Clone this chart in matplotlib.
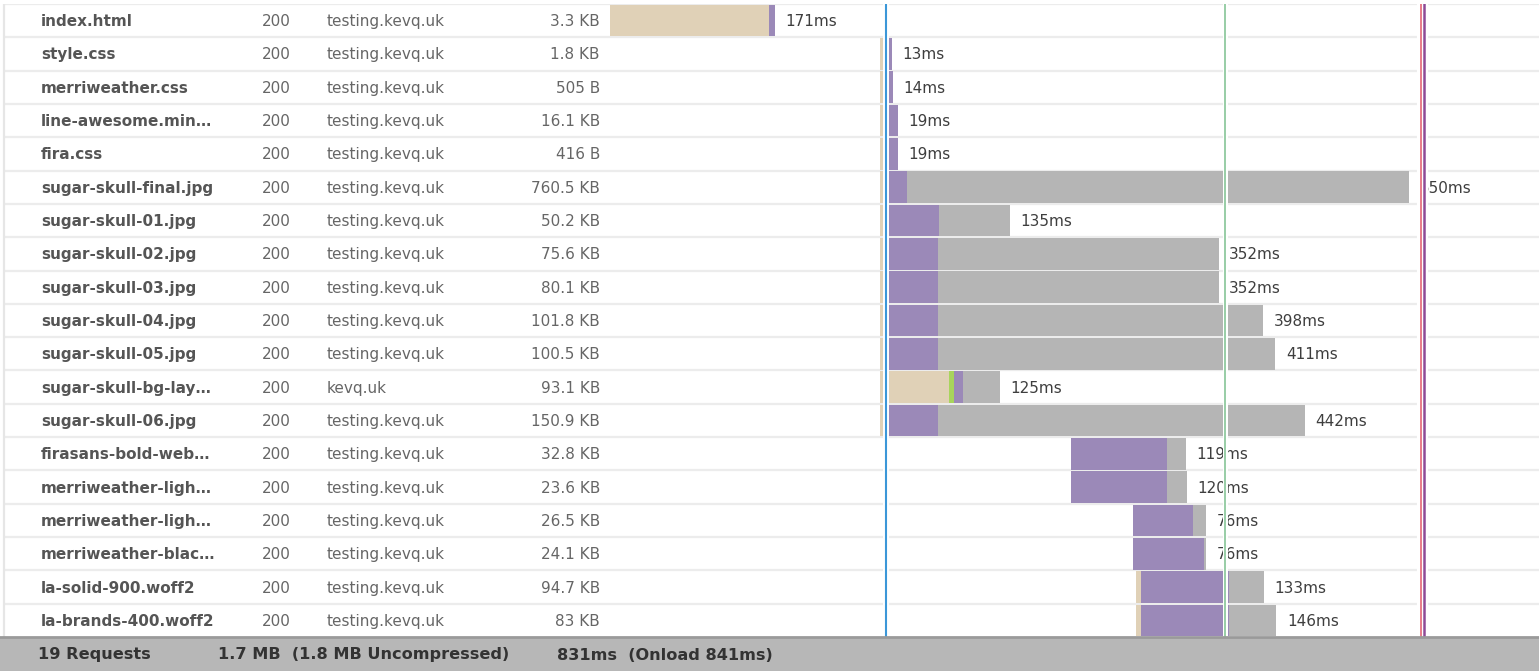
import matplotlib
matplotlib.use("Agg")
import matplotlib.pyplot as plt
from matplotlib.patches import Rectangle

# request table
names = ["index.html", "style.css", "merriweather.css", "line-awesome.min…", "fira.css",
         "sugar-skull-final.jpg", "sugar-skull-01.jpg", "sugar-skull-02.jpg", "sugar-skull-03.jpg",
         "sugar-skull-04.jpg", "sugar-skull-05.jpg", "sugar-skull-bg-lay…", "sugar-skull-06.jpg",
         "firasans-bold-web…", "merriweather-ligh…", "merriweather-ligh…", "merriweather-blac…",
         "la-solid-900.woff2", "la-brands-400.woff2"]
status = ["200"] * 19
domains = ["testing.kevq.uk"] * 11 + ["kevq.uk"] + ["testing.kevq.uk"] * 7
sizes = ["3.3 KB", "1.8 KB", "505 B", "16.1 KB", "416 B", "760.5 KB", "50.2 KB", "75.6 KB",
         "80.1 KB", "101.8 KB", "100.5 KB", "93.1 KB", "150.9 KB", "32.8 KB", "23.6 KB",
         "26.5 KB", "24.1 KB", "94.7 KB", "83 KB"]

# timings in ms
start   = [0, 280, 280, 280, 280, 280, 280, 280, 280, 280, 280, 280, 280, 479, 479, 543, 543, 546, 546]
blocked = [165, 4, 4, 4, 4, 4, 4, 4, 4, 4, 4, 72, 4, 0, 0, 0, 0, 5, 5]
connect = [0, 0, 0, 0, 0, 0, 0, 0, 0, 0, 0, 5, 0, 0, 0, 0, 0, 0, 0]
wait    = [6, 9, 10, 15, 15, 24, 58, 57, 57, 57, 57, 10, 57, 99, 99, 62, 74, 92, 92]
receive = [0, 0, 0, 0, 0, 522, 73, 291, 291, 337, 350, 38, 381, 20, 21, 14, 2, 36, 49]
totals  = [171, 13, 14, 19, 19, 550, 135, 352, 352, 398, 411, 125, 442, 119, 120, 76, 76, 133, 146]

dom_loaded = 286.6
render_mark = 639
onload_start = 842
onload_end = 845.3

footer = ["19 Requests", "1.7 MB  (1.8 MB Uncompressed)", "831ms  (Onload 841ms)"]

W, H = 1539, 671
fig = plt.figure(figsize=(W / 100, H / 100), dpi=100)
fig.patch.set_facecolor("white")
plt.rcParams["font.family"] = ["DejaVu Sans"]

n = len(names)
bot = 34 / H
hgt = 633 / H
split = 610 / W

tab = fig.add_axes([0, bot, split, hgt])
tl = fig.add_axes([split, bot, 1 - split, hgt])
for a in (tab, tl):
    a.set_ylim(n - 0.5, -0.5)
    a.axis("off")
tab.set_xlim(0, 610)
tl.set_xlim(0, (W - 610) / 0.963)

# row separators
sep = [i - 0.5 for i in range(n)]
tab.hlines(sep, 5, 610, color="#ececec", lw=1.6, zorder=1)
tl.hlines(sep, 0, tl.get_xlim()[1], color="#ececec", lw=1.6, zorder=1)
tab.axvline(4, color="#e6e6e6", lw=1.6, zorder=1)

fs = 11
for i in range(n):
    tab.text(41, i + 0.03, names[i], fontsize=fs, fontweight="bold", color="#555555", va="center")
    tab.text(262, i + 0.03, status[i], fontsize=fs, color="#666666", va="center")
    tab.text(327, i + 0.03, domains[i], fontsize=fs, color="#666666", va="center")
    tab.text(600, i + 0.03, sizes[i], fontsize=fs, color="#666666", va="center", ha="right")

# waterfall bars
colors = ["#e0d1b7", "#a8d45c", "#9b89b8", "#b5b5b5"]
rows = list(range(n))
left = list(start)
for seg, col in zip([blocked, connect, wait, receive], colors):
    tl.barh(rows, seg, left=left, height=0.95, color=col, lw=0, zorder=2)
    left = [l + s for l, s in zip(left, seg)]

for i in range(n):
    tl.annotate(f"{totals[i]}ms", (left[i], i + 0.03), xytext=(7.5, 0), textcoords="offset points",
                fontsize=fs, color="#3e3e3e", va="center", zorder=3)

# timing markers with white halo
tl.axvline(dom_loaded, color="white", lw=4.3, zorder=4)
tl.axvline(dom_loaded, color="#3b97d8", lw=1.5, zorder=5)
tl.axvline(render_mark, color="white", lw=3.6, zorder=4)
tl.axvline(render_mark, color="#7cc08e", lw=1.1, zorder=5)
tl.axvline((onload_start + onload_end) / 2, color="white", lw=8, zorder=4)
tl.axvline(onload_start, color="#e2586a", lw=1.1, zorder=5)
tl.axvline(onload_end, color="#8e4b97", lw=1.8, zorder=5)

# footer
fig.patches.append(Rectangle((0, 0), 1, bot, transform=fig.transFigure,
                             facecolor="#b7b7b7", edgecolor="none", zorder=0))
fig.add_artist(plt.Line2D([0, 1], [bot, bot], transform=fig.transFigure,
                          color="#9a9a9a", lw=2))
for x, s in zip([38, 218, 557], footer):
    fig.text(x / W, 16 / H, s, fontsize=11.6, fontweight="bold", color="#333333", va="center")

fig.savefig("out.png", dpi=100)
